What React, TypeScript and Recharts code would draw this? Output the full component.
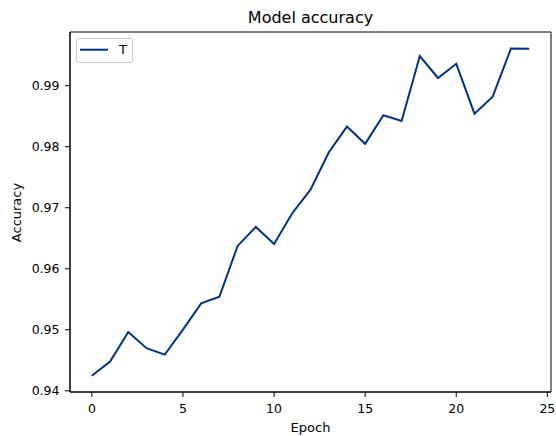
import React from 'react';
import { LineChart, Line, XAxis, YAxis, ReferenceArea, Legend, Customized } from 'recharts';

const epochs = [0, 1, 2, 3, 4, 5, 6, 7, 8, 9, 10, 11, 12, 13, 14, 15, 16, 17, 18, 19, 20, 21, 22, 23, 24];
const accuracy = [
  0.94245, 0.94479, 0.94964, 0.94698, 0.94593, 0.95002, 0.95433, 0.95541, 0.96374, 0.96685,
  0.96407, 0.9691, 0.97295, 0.97905, 0.9833, 0.98047, 0.98515, 0.98423, 0.99485, 0.99126,
  0.99359, 0.98542, 0.9882, 0.99609, 0.99605,
];
const xTicks = [0, 5, 10, 15, 20, 25];
const yTicks = [0.94, 0.95, 0.96, 0.97, 0.98, 0.99];
const xDomain = [-1.2, 25.2];
const yDomain = [0.9398, 0.9988];
const seriesName = 'T';
const titleText = 'Model accuracy';
const xLabel = 'Epoch';
const yLabel = 'Accuracy';

const data = epochs.map((e, i) => ({ epoch: e, acc: accuracy[i] }));

const FONT = '"DejaVu Sans", sans-serif';
const LINE_COLOR = '#003388';

const renderLegend = () => (
  <div
    style={{
      boxSizing: 'border-box',
      width: 57,
      height: 25,
      border: '1px solid #cccccc',
      borderRadius: 3,
      background: 'rgba(255,255,255,0.8)',
      position: 'relative',
    }}
  >
    <svg width={57} height={25} style={{ position: 'absolute', left: -1, top: -1 }}>
      <line x1={4} x2={32} y1={11.7} y2={11.7} stroke={LINE_COLOR} strokeWidth={2} />
      <text x={43} y={16.4} fontFamily={FONT} fontSize={13} fill="#000">
        {seriesName}
      </text>
    </svg>
  </div>
);

const Texts = () => (
  <g fontFamily={FONT} fill="#000">
    <text x={310.5} y={22.5} textAnchor="middle" fontSize={16}>
      {titleText}
    </text>
    <text x={310.5} y={432} textAnchor="middle" fontSize={13}>
      {xLabel}
    </text>
    <text x={21} y={212.5} textAnchor="middle" fontSize={13} transform="rotate(-90 21 212.5)">
      {yLabel}
    </text>
  </g>
);

export default function App() {
  return (
    <div style={{ position: 'absolute', left: 0, top: 0, width: 556, height: 436, background: '#fff' }}>
      <LineChart width={556} height={436} data={data} margin={{ top: 32, right: 5, bottom: 0, left: 0 }}>
        <XAxis
          dataKey="epoch"
          type="number"
          domain={xDomain}
          ticks={xTicks}
          allowDataOverflow
          height={44}
          tickSize={5}
          tickMargin={7}
          axisLine={{ stroke: '#000', strokeWidth: 1 }}
          tickLine={{ stroke: '#000', strokeWidth: 1 }}
          tick={{ fill: '#000', fontSize: 12.5, fontFamily: FONT }}
        />
        <YAxis
          type="number"
          domain={yDomain}
          ticks={yTicks}
          allowDataOverflow
          width={70}
          tickSize={5}
          tickMargin={5.5}
          tickFormatter={(v: number) => v.toFixed(2)}
          axisLine={{ stroke: '#000', strokeWidth: 1 }}
          tickLine={{ stroke: '#000', strokeWidth: 1 }}
          tick={{ fill: '#000', fontSize: 12.5, fontFamily: FONT }}
        />
        <ReferenceArea
          x1={xDomain[0]}
          x2={xDomain[1]}
          y1={yDomain[0]}
          y2={yDomain[1]}
          fill="none"
          stroke="#000"
          strokeWidth={1}
          ifOverflow="visible"
        />
        <Line
          type="linear"
          dataKey="acc"
          name={seriesName}
          stroke={LINE_COLOR}
          strokeWidth={2}
          dot={false}
          isAnimationActive={false}
        />
        <Legend
          layout="horizontal"
          verticalAlign="middle"
          align="center"
          content={renderLegend}
          wrapperStyle={{ position: 'absolute', left: 76, top: 38, width: 57, height: 25 }}
        />
        <Customized component={Texts} />
      </LineChart>
    </div>
  );
}
